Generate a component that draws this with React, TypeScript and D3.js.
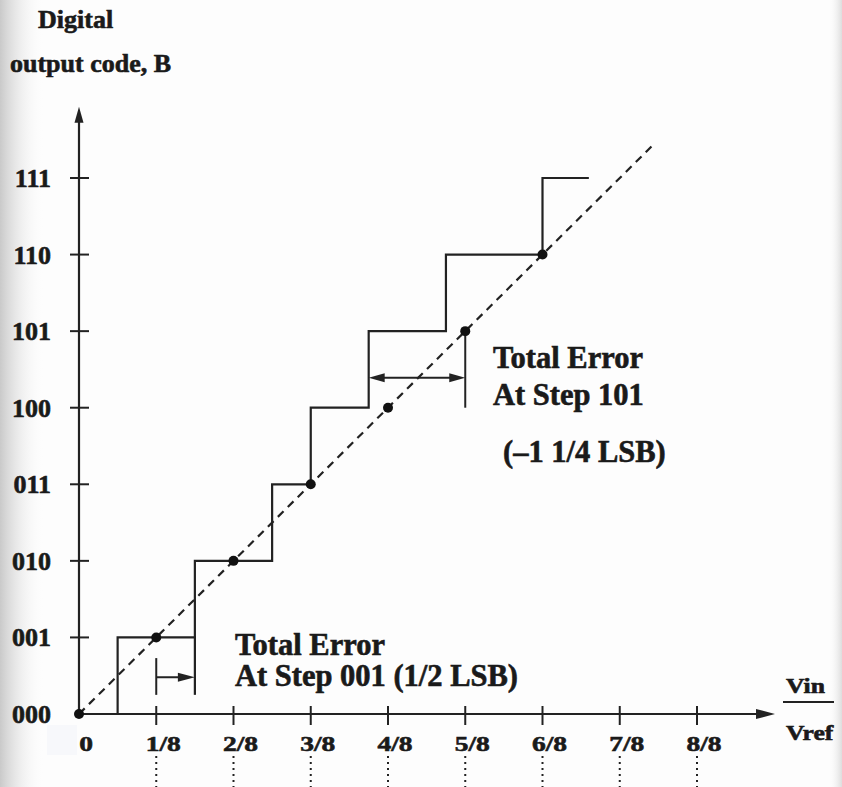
import React from "react";
import * as d3 from "d3";

// Axis labels
const codeLabels = ["000", "001", "010", "011", "100", "101", "110", "111"];
const vinTicks = ["0", "1/8", "2/8", "3/8", "4/8", "5/8", "6/8", "7/8", "8/8"];

// Ideal conversion points (Vin in LSB, code)
const idealPoints = [0, 1, 2, 3, 4, 5, 6];

// Actual transfer curve: input level (LSB) where each code 1..7 begins
const transitions = [0.5, 1.5, 2.5, 3.0, 3.75, 4.75, 6.0];
const stepEnd = 6.6;

// Extent of the ideal dashed line and axes (in LSB / code units)
const idealEnd = 7.45;
const xAxisEnd = 9.01;
const yAxisEnd = 7.93;

// Error annotations
const err001 = { from: 1, to: 1.5, y: 0.48, top: 0.73, bottom: 0.25 };
const err101 = { from: 3.75, to: 5, y: 4.39, top: 4.94, bottom: 4.0 };

const W = 842;
const H = 787;
const ink = "#222";
const serif = "'Liberation Serif', 'Times New Roman', Times, serif";

const x = d3.scaleLinear().domain([0, 8]).range([79, 697]);
const y = d3.scaleLinear().domain([0, 7]).range([714, 178]);

function Label({
  px,
  py,
  size,
  sx = 1,
  anchor = "start",
  children,
}: {
  px: number;
  py: number;
  size: number;
  sx?: number;
  anchor?: string;
  children: React.ReactNode;
}) {
  return (
    <text
      transform={`translate(${px},${py}) scale(${sx},1)`}
      fontSize={size}
      fontFamily={serif}
      fontWeight="bold"
      fill="#1a1a1a"
      stroke="#1a1a1a"
      strokeWidth={0.6}
      textAnchor={anchor as any}
    >
      {children}
    </text>
  );
}

export default function App() {
  const line = d3.line<[number, number]>().x((d) => x(d[0])).y((d) => y(d[1]));

  const stairs: [number, number][] = [];
  transitions.forEach((t, i) => {
    stairs.push([t, i]);
    stairs.push([t, i + 1]);
  });
  stairs.push([stepEnd, transitions.length]);

  const x0 = x(0);
  const y0 = y(0);
  const xTip = x(xAxisEnd);
  const yTip = y(yAxisEnd);

  const arrowRight = (tx: number, ty: number, len = 15, hw = 4.5) =>
    `${tx},${ty} ${tx - len},${ty - hw} ${tx - len},${ty + hw}`;
  const arrowLeft = (tx: number, ty: number, len = 15, hw = 4.5) =>
    `${tx},${ty} ${tx + len},${ty - hw} ${tx + len},${ty + hw}`;

  return (
    <svg
      width={W}
      height={H}
      viewBox={`0 0 ${W} ${H}`}
      style={{ position: "absolute", left: 0, top: 0, background: "#fdfdfd" }}
    >
      <defs>
        <linearGradient id="edgeShade" x1="0" x2="1" y1="0" y2="0">
          <stop offset="0" stopColor="#b8b8b8" stopOpacity="0.75" />
          <stop offset="1" stopColor="#ffffff" stopOpacity="0" />
        </linearGradient>
        <linearGradient id="edgeShadeR" x1="1" x2="0" y1="0" y2="0">
          <stop offset="0" stopColor="#c8c8c8" stopOpacity="0.6" />
          <stop offset="1" stopColor="#ffffff" stopOpacity="0" />
        </linearGradient>
      </defs>
      <rect x={0} y={0} width={45} height={H} fill="url(#edgeShade)" />
      <rect x={W - 14} y={0} width={14} height={H} fill="url(#edgeShadeR)" />
      <rect x={47} y={725} width={30} height={30} fill="#f7f8fb" />

      {/* Title of the vertical axis */}
      <Label px={38} py={28} size={26}>Digital</Label>
      <Label px={10} py={72} size={26}>output code, B</Label>

      {/* Axes */}
      <line x1={x0} y1={y0} x2={xTip - 10} y2={y0} stroke={ink} strokeWidth={2.2} />
      <polygon points={arrowRight(xTip, y0, 19, 5)} fill={ink} />
      <line x1={x0} y1={y0} x2={x0} y2={yTip + 10} stroke={ink} strokeWidth={2.2} />
      <polygon
        points={`${x0},${yTip} ${x0 - 4.5},${yTip + 16} ${x0 + 4.5},${yTip + 16}`}
        fill={ink}
      />

      {/* Code ticks and labels */}
      {codeLabels.map((c, i) => (
        <g key={c}>
          {i > 0 && (
            <line x1={x0 - 9} x2={x0 + 10} y1={y(i)} y2={y(i)} stroke={ink} strokeWidth={2} />
          )}
          <Label px={51} py={y(i) + 9} size={26} anchor="end">
            {c}
          </Label>
        </g>
      ))}

      {/* Vin ticks, labels and dotted guides */}
      {vinTicks.map((t, i) => (
        <g key={t}>
          {i > 0 && (
            <>
              <line x1={x(i)} x2={x(i)} y1={y0 - 8} y2={y0 + 11} stroke={ink} strokeWidth={2} />
              <line
                x1={x(i)}
                x2={x(i)}
                y1={756}
                y2={H}
                stroke={ink}
                strokeWidth={2}
                strokeDasharray="2,4"
              />
            </>
          )}
          <Label px={x(i) + 7} py={751} size={22} sx={1.25} anchor="middle">
            {t}
          </Label>
        </g>
      ))}

      {/* Vin / Vref */}
      <Label px={786} py={693} size={21} sx={1.22}>Vin</Label>
      <line x1={783} x2={834} y1={702} y2={702} stroke={ink} strokeWidth={2} />
      <Label px={786} py={740} size={21} sx={1.22}>Vref</Label>

      {/* Ideal transfer line */}
      <path
        d={line([
          [0, 0],
          [idealEnd, idealEnd],
        ]) as string}
        stroke={ink}
        strokeWidth={2.2}
        strokeDasharray="8,6"
        fill="none"
      />

      {/* Actual staircase */}
      <path d={line(stairs) as string} stroke={ink} strokeWidth={2.2} fill="none" />

      {/* Ideal points */}
      {idealPoints.map((p) => (
        <circle key={p} cx={x(p)} cy={y(p)} r={5} fill="#111" />
      ))}

      {/* Error at step 001 */}
      <line
        x1={x(err001.from)}
        x2={x(err001.from)}
        y1={y(err001.top)}
        y2={y(err001.bottom)}
        stroke={ink}
        strokeWidth={2}
      />
      <line
        x1={x(err001.to)}
        x2={x(err001.to)}
        y1={y(1)}
        y2={y(err001.bottom)}
        stroke={ink}
        strokeWidth={2.2}
      />
      <line
        x1={x(err001.from)}
        x2={x(err001.to) - 12}
        y1={y(err001.y)}
        y2={y(err001.y)}
        stroke={ink}
        strokeWidth={2}
      />
      <polygon points={arrowRight(x(err001.to), y(err001.y), 17, 4.5)} fill={ink} />
      <Label px={235} py={655} size={30.5}>Total Error</Label>
      <Label px={235} py={686} size={30.5}>At Step 001 (1/2 LSB)</Label>

      {/* Error at step 101 */}
      <line
        x1={x(err101.to)}
        x2={x(err101.to)}
        y1={y(err101.top)}
        y2={y(err101.bottom)}
        stroke={ink}
        strokeWidth={2}
      />
      <line
        x1={x(err101.from) + 12}
        x2={x(err101.to) - 12}
        y1={y(err101.y)}
        y2={y(err101.y)}
        stroke={ink}
        strokeWidth={2}
      />
      <polygon points={arrowLeft(x(err101.from), y(err101.y), 16, 4.5)} fill={ink} />
      <polygon points={arrowRight(x(err101.to), y(err101.y), 16, 4.5)} fill={ink} />
      <Label px={493} py={368} size={30.5}>Total Error</Label>
      <Label px={493} py={405} size={30.5}>At Step 101</Label>
      <Label px={503} py={462} size={30.5}>(–1 1/4 LSB)</Label>
    </svg>
  );
}
